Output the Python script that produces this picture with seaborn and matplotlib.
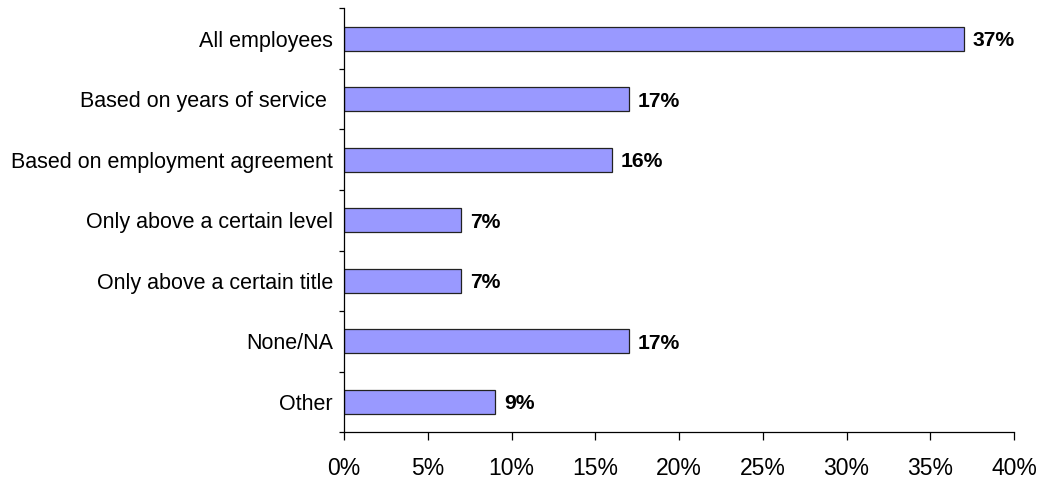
import matplotlib
matplotlib.use("Agg")
import matplotlib.pyplot as plt
from matplotlib.ticker import FixedLocator, FuncFormatter
import seaborn as sns
import pandas as pd
import numpy as np

categories = [
    "All employees",
    "Based on years of service ",
    "Based on employment agreement",
    "Only above a certain level",
    "Only above a certain title",
    "None/NA",
    "Other",
]
values = [37, 17, 16, 7, 7, 17, 9]
x_ticks = [0, 5, 10, 15, 20, 25, 30, 35, 40]

sns.set_theme(style="white")
plt.rcParams["font.family"] = ["Liberation Sans", "DejaVu Sans"]

df = pd.DataFrame({"category": categories, "value": values})

fig = plt.figure(figsize=(10.46, 4.82), dpi=100)
ax = fig.add_axes([0.3289, 0.1037, 0.6405, 0.8787])

sns.barplot(data=df, x="value", y="category", orient="h", color="#9999FF",
            edgecolor="#222222", linewidth=0.9, width=0.4, saturation=1,
            ax=ax)

ax.set_xlim(0, 40)
ax.set_ylim(len(categories) - 0.5, -0.5)
ax.set_xlabel("")
ax.set_ylabel("")

# value labels at the bar ends
for i, v in enumerate(values):
    ax.annotate(f"{v}%", xy=(v, i), xytext=(6.5, 0), textcoords="offset points",
                ha="left", va="center_baseline", fontsize=15.2,
                fontweight="bold", color="black")

# x axis
ax.set_xticks(x_ticks)
ax.xaxis.set_major_formatter(FuncFormatter(lambda v, p: f"{int(v)}%"))
ax.tick_params(axis="x", which="major", direction="out", length=6,
               width=0.9, color="black", labelsize=16.5, pad=12,
               labelcolor="black", bottom=True)

# y axis: labels at centres, tick marks between categories
ax.tick_params(axis="y", which="major", length=0, labelsize=15.5,
               pad=8, labelcolor="black")
ax.yaxis.set_minor_locator(FixedLocator(np.arange(-0.5, len(categories), 1.0)))
ax.tick_params(axis="y", which="minor", direction="out", length=3.5,
               width=0.9, color="black", left=True)

for side in ["top", "right"]:
    ax.spines[side].set_visible(False)
for side in ["left", "bottom"]:
    ax.spines[side].set_color("black")
    ax.spines[side].set_linewidth(0.9)

fig.savefig("out.png", dpi=100, facecolor="white")
